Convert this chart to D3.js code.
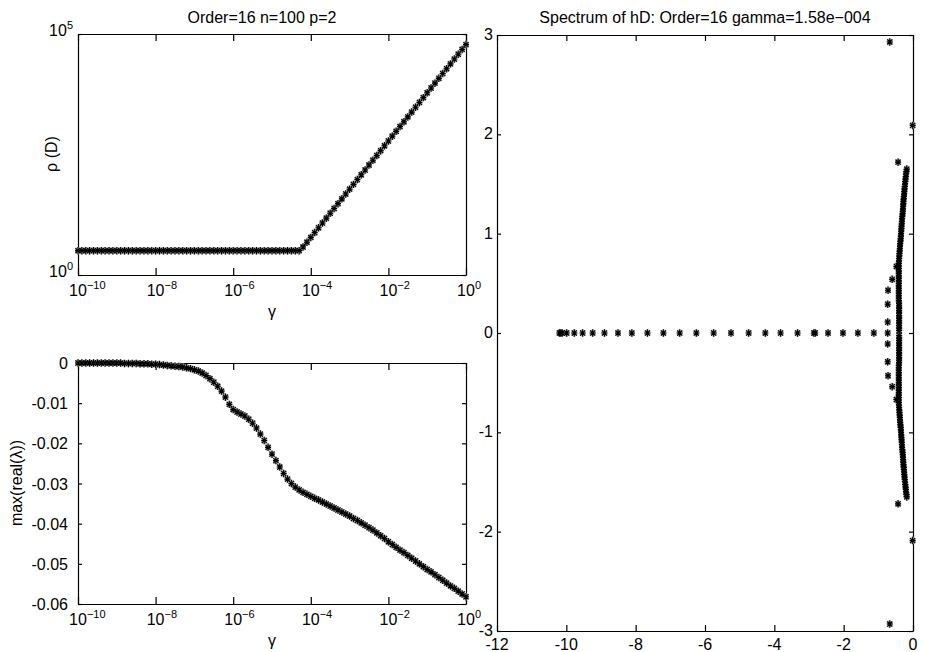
<!DOCTYPE html>
<html>
<head>
<meta charset="utf-8">
<script src="https://cdn.jsdelivr.net/npm/d3@7"></script>
<style>
  body { margin: 0; background: #fff; }
  svg text { font-family: "Liberation Sans", Arial, Helvetica, sans-serif; fill: #000; }
</style>
</head>
<body>
<svg id="fig" width="925" height="652"></svg>
<script>
// ---- sweep over gamma (log10 of the sampled gamma values) ----
const gammaExp = [
  -10.0,-9.9,-9.8,-9.7,-9.6,-9.5,-9.4,-9.3,-9.2,-9.1,
  -9.0,-8.9,-8.8,-8.7,-8.6,-8.5,-8.4,-8.3,-8.2,-8.1,
  -8.0,-7.9,-7.8,-7.7,-7.6,-7.5,-7.4,-7.3,-7.2,-7.1,
  -7.0,-6.9,-6.8,-6.7,-6.6,-6.5,-6.4,-6.3,-6.2,-6.1,
  -6.0,-5.9,-5.8,-5.7,-5.6,-5.5,-5.4,-5.3,-5.2,-5.1,
  -5.0,-4.9,-4.8,-4.7,-4.6,-4.5,-4.4,-4.3,-4.2,-4.1,
  -4.0,-3.9,-3.8,-3.7,-3.6,-3.5,-3.4,-3.3,-3.2,-3.1,
  -3.0,-2.9,-2.8,-2.7,-2.6,-2.5,-2.4,-2.3,-2.2,-2.1,
  -2.0,-1.9,-1.8,-1.7,-1.6,-1.5,-1.4,-1.3,-1.2,-1.1,
  -1.0,-0.9,-0.8,-0.7,-0.6,-0.5,-0.4,-0.3,-0.2,-0.1,
  0.0
];

// spectral radius rho(D) at each gamma
const rhoD = [
  3.2,3.2,3.2,3.2,3.2,3.2,3.2,3.2,3.2,3.2,
  3.2,3.2,3.2,3.2,3.2,3.2,3.2,3.2,3.2,3.2,
  3.2,3.2,3.2,3.2,3.2,3.2,3.2,3.2,3.2,3.2,
  3.2,3.2,3.2,3.2,3.2,3.2,3.2,3.2,3.2,3.2,
  3.2,3.2,3.2,3.2,3.2,3.2,3.2,3.2,3.2,3.2,
  3.2,3.2,3.2,3.2,3.2,3.2,3.2,3.2,3.80,4.79,
  6.03,7.59,9.55,12.0,15.1,19.1,24.0,30.2,38.0,47.9,
  60.3,75.9,95.5,120,151,191,240,302,380,479,
  603,759,955,1202,1514,1905,2399,3020,3802,4786,
  6026,7586,9550,12020,15140,19050,23990,30200,38020,47860,
  60260
];

// largest real part of the eigenvalues at each gamma
const maxRealLambda = [
  0,0,0,0,0,0,0,0,0,0,
  0,0,-0.0001,-0.0001,-0.0001,-0.0001,-0.0002,-0.0002,-0.0002,-0.0003,
  -0.0003,-0.0004,-0.0005,-0.0006,-0.0007,-0.0008,-0.0009,-0.0010,-0.0012,-0.0014,
  -0.0017,-0.0020,-0.0025,-0.0031,-0.0039,-0.0048,-0.0058,-0.0070,-0.0085,-0.0103,
  -0.0116,-0.0122,-0.0127,-0.0132,-0.0140,-0.0150,-0.0162,-0.0177,-0.0193,-0.0210,
  -0.0227,-0.0243,-0.0259,-0.0275,-0.0289,-0.0300,-0.0309,-0.0316,-0.0322,-0.0327,
  -0.0332,-0.0337,-0.0341,-0.0346,-0.0351,-0.0356,-0.0361,-0.0366,-0.0371,-0.0376,
  -0.0381,-0.0387,-0.0392,-0.0398,-0.0404,-0.0410,-0.0416,-0.0423,-0.0430,-0.0437,
  -0.0445,-0.0452,-0.0459,-0.0466,-0.0472,-0.0479,-0.0486,-0.0493,-0.0500,-0.0507,
  -0.0514,-0.0520,-0.0527,-0.0534,-0.0541,-0.0548,-0.0555,-0.0561,-0.0568,-0.0575,
  -0.0582
];

// ---- spectrum of hD at gamma = 1.58e-4 ----
// real eigenvalues
const realEigs = [
  -10.20,-10.16,-10.12,-9.99,-9.77,-9.53,-9.24,-8.90,-8.51,-8.11,
  -7.66,-7.20,-6.73,-6.25,-5.75,-5.25,-4.74,-4.26,-3.82,-3.33,
  -2.86,-2.82,-2.45,-2.02,-1.59,-1.13,-0.73
];
// isolated complex eigenvalues (upper half plane; conjugates drawn too)
const outlierRe = [-0.67,-0.01,-0.43,-0.48,-0.60,-0.72,-0.73,-0.73];
const outlierIm = [ 2.93, 2.09, 1.72, 0.67, 0.54, 0.43, 0.29, 0.11];
// dense branch of complex eigenvalues near the imaginary axis (upper half)
const branchRe = [
  -0.40,-0.40,-0.40,-0.40,-0.40,-0.40,-0.40,-0.40,-0.40,-0.40,
  -0.40,-0.40,-0.41,-0.41,-0.41,-0.41,-0.41,-0.41,-0.41,-0.41,
  -0.41,-0.41,-0.41,-0.41,-0.41,-0.41,-0.41,-0.41,-0.405,-0.40,
  -0.395,-0.39,-0.385,-0.38,-0.375,-0.37,-0.362,-0.355,-0.35,-0.345,
  -0.34,-0.335,-0.33,-0.325,-0.32,-0.315,-0.308,-0.30,-0.295,-0.29,
  -0.285,-0.28,-0.275,-0.27,-0.262,-0.255,-0.25,-0.245,-0.238,-0.23,
  -0.222,-0.215,-0.208,-0.20,-0.19,-0.18
];
const branchIm = [
  0.025,0.05,0.075,0.10,0.125,0.15,0.175,0.20,0.225,0.25,
  0.275,0.30,0.325,0.35,0.375,0.40,0.425,0.45,0.475,0.50,
  0.525,0.55,0.575,0.60,0.625,0.65,0.675,0.70,0.725,0.75,
  0.775,0.80,0.825,0.85,0.875,0.90,0.925,0.95,0.975,1.00,
  1.025,1.05,1.075,1.10,1.125,1.15,1.175,1.20,1.225,1.25,
  1.275,1.30,1.325,1.35,1.375,1.40,1.425,1.45,1.475,1.50,
  1.525,1.55,1.575,1.60,1.625,1.65
];

// ---- ticks and labels ----
const gammaTickExp = [-10, -8, -6, -4, -2, 0];
const rhoTickExp = [0, 5];
const maxReTicks = [0, -0.01, -0.02, -0.03, -0.04, -0.05, -0.06];
const maxReTickLabels = ["0", "-0.01", "-0.02", "-0.03", "-0.04", "-0.05", "-0.06"];
const specXTicks = [-12, -10, -8, -6, -4, -2, 0];
const specXTickLabels = ["-12", "-10", "-8", "-6", "-4", "-2", "0"];
const specYTicks = [3, 2, 1, 0, -1, -2, -3];
const specYTickLabels = ["3", "2", "1", "0", "-1", "-2", "-3"];

const svg = d3.select("#fig");
const FS = 16;          // tick labels, axis labels and titles
const SUP = 11;         // exponent size

// scales
const xGammaTop = d3.scaleLog().domain([1e-10, 1]).range([78, 466]);
const yRho = d3.scaleLog().domain([1, 1e5]).range([275, 34]);
const xGammaBot = d3.scaleLog().domain([1e-10, 1]).range([78, 466]);
const yMaxRe = d3.scaleLinear().domain([-0.06, 0]).range([604, 363]);
const xRe = d3.scaleLinear().domain([-12, 0]).range([497, 913]);
const yIm = d3.scaleLinear().domain([-3, 3]).range([631, 35]);

// asterisk marker ('+' and 'x' overlaid)
const asterisk = {
  draw(ctx, size) {
    const r = Math.sqrt(size) / 2;
    ctx.moveTo(0, -r); ctx.lineTo(0, r);
    ctx.moveTo(-r * 0.8, 0); ctx.lineTo(r * 0.8, 0);
    const d = r * 0.68;
    ctx.moveTo(-d, -d); ctx.lineTo(d, d);
    ctx.moveTo(-d, d); ctx.lineTo(d, -d);
  }
};
const markerD = d3.symbol().type(asterisk).size(56)();

// box with inward ticks on all four sides
function box(x, y, xTicks, yTicks, xLen, yLen) {
  const g = svg.append("g");
  const [x0, x1] = x.range();
  const [y0, y1] = y.range();
  const style = s => s.call(a => a.selectAll("path,line").attr("stroke", "#000").attr("stroke-width", 1.2));
  g.append("g").attr("transform", `translate(0,${y0})`)
    .call(d3.axisBottom(x).tickValues(xTicks).tickSizeInner(-xLen).tickSizeOuter(0).tickFormat(() => ""))
    .call(style);
  g.append("g").attr("transform", `translate(0,${y1})`)
    .call(d3.axisTop(x).tickValues(xTicks).tickSizeInner(-xLen).tickSizeOuter(0).tickFormat(() => ""))
    .call(style);
  g.append("g").attr("transform", `translate(${x0},0)`)
    .call(d3.axisLeft(y).tickValues(yTicks).tickSizeInner(-yLen).tickSizeOuter(0).tickFormat(() => ""))
    .call(style);
  g.append("g").attr("transform", `translate(${x1},0)`)
    .call(d3.axisRight(y).tickValues(yTicks).tickSizeInner(-yLen).tickSizeOuter(0).tickFormat(() => ""))
    .call(style);
  return g;
}

// "10^e" label: the "10" is centred on cx, the exponent trails it
function powerLabel(g, cx, baseY, e, anchor) {
  const t = g.append("text").attr("y", baseY).attr("font-size", FS);
  if (anchor === "end") t.attr("x", cx).attr("text-anchor", "end");
  else t.attr("x", cx - FS * 0.556).attr("text-anchor", "start");
  t.append("tspan").text("10");
  t.append("tspan").attr("font-size", SUP).attr("dy", -7.5)
    .text(e < 0 ? "\u2212" + (-e) : String(e));
  return t;
}

// asterisks drawn with a soft grey rim under a black core
function markers(g, pts, x, y) {
  const m = g.append("g").attr("fill", "none");
  m.selectAll(null).data(pts).join("path")
    .attr("d", markerD)
    .attr("transform", d => `translate(${x(d[0])},${y(d[1])})`)
    .attr("stroke", "#a8a8a8").attr("stroke-width", 2.2);
  m.selectAll(null).data(pts).join("path")
    .attr("d", markerD)
    .attr("transform", d => `translate(${x(d[0])},${y(d[1])})`)
    .attr("stroke", "#000").attr("stroke-width", 1.1);
}

// ---------- panel 1: rho(D) vs gamma ----------
const g1 = box(xGammaTop, yRho, gammaTickExp.map(e => Math.pow(10, e)), [1, 1e5], 7, 4);
markers(g1, gammaExp.map((e, i) => [Math.pow(10, e), rhoD[i]]), xGammaTop, yRho);
gammaTickExp.forEach(e => powerLabel(g1, xGammaTop(Math.pow(10, e)), 296, e, "start"));
rhoTickExp.forEach(e => powerLabel(g1, 73, yRho(Math.pow(10, e)) + 2, e, "end"));
g1.append("text").attr("x", 262).attr("y", 23).attr("text-anchor", "middle").attr("font-size", FS)
  .text("Order=16 n=100 p=2");
g1.append("text").attr("x", 272).attr("y", 317).attr("text-anchor", "middle").attr("font-size", FS).text("\u03b3");
g1.append("text").attr("transform", "translate(57,154) rotate(-90)").attr("text-anchor", "middle")
  .attr("font-size", FS).text("\u03c1 (D)");

// ---------- panel 2: max(real(lambda)) vs gamma ----------
const g2 = box(xGammaBot, yMaxRe, gammaTickExp.map(e => Math.pow(10, e)), maxReTicks, 7, 4);
markers(g2, gammaExp.map((e, i) => [Math.pow(10, e), maxRealLambda[i]]), xGammaBot, yMaxRe);
gammaTickExp.forEach(e => powerLabel(g2, xGammaBot(Math.pow(10, e)), 625, e, "start"));
g2.selectAll(null).data(maxReTicks).join("text")
  .attr("x", 68).attr("y", d => yMaxRe(d) + 6).attr("text-anchor", "end").attr("font-size", FS)
  .text((d, i) => maxReTickLabels[i]);
g2.append("text").attr("x", 272).attr("y", 646).attr("text-anchor", "middle").attr("font-size", FS).text("\u03b3");
g2.append("text").attr("transform", "translate(22,483) rotate(-90)").attr("text-anchor", "middle")
  .attr("font-size", FS).text("max(real(\u03bb))");

// ---------- panel 3: spectrum of hD ----------
const g3 = box(xRe, yIm, specXTicks, specYTicks, 6, 4);
const specPts = []
  .concat(realEigs.map(r => [r, 0]))
  .concat(outlierRe.map((r, i) => [r, outlierIm[i]]))
  .concat(outlierRe.map((r, i) => [r, -outlierIm[i]]))
  .concat(branchRe.map((r, i) => [r, branchIm[i]]))
  .concat(branchRe.map((r, i) => [r, -branchIm[i]]));
markers(g3, specPts, xRe, yIm);
g3.selectAll(null).data(specXTicks).join("text")
  .attr("x", d => xRe(d)).attr("y", 650).attr("text-anchor", "middle").attr("font-size", FS)
  .text((d, i) => specXTickLabels[i]);
g3.selectAll(null).data(specYTicks).join("text")
  .attr("x", 493).attr("y", d => yIm(d) + 5).attr("text-anchor", "end").attr("font-size", FS)
  .text((d, i) => specYTickLabels[i]);
g3.append("text").attr("x", 705).attr("y", 23).attr("text-anchor", "middle").attr("font-size", FS)
  .text("Spectrum of hD: Order=16 gamma=1.58e\u2212004");
</script>
</body>
</html>
